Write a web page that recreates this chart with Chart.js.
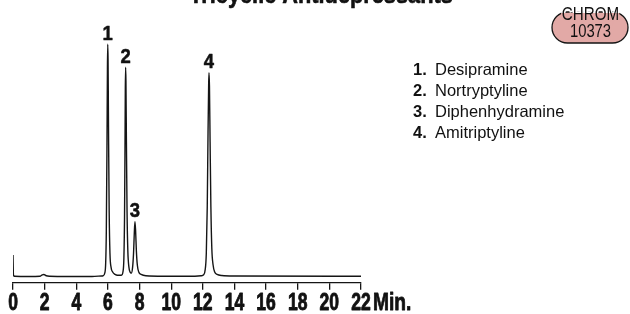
<!DOCTYPE html>
<html>
<head>
<meta charset="utf-8">
<script src="https://cdn.jsdelivr.net/npm/chart.js@4.4.1/dist/chart.umd.min.js"></script>
<style>
  html, body { margin: 0; padding: 0; background: #fff; }
  canvas { display: block; }
</style>
</head>
<body>
<canvas id="chrom" width="630" height="314"></canvas>
<script>
// Fonts (no condensed face installed, so narrow text is squeezed by hand)
const SANS = "'Liberation Sans', Arial, sans-serif";

// Trace: retention time (min) and relative response (%)
const traceTimes = [
    0, 0.03, 0.1, 1.0, 1.7, 1.85, 1.95, 2.1, 2.3, 3.5, 5.0, 5.6,
    5.70, 5.80, 5.86, 5.90, 5.94, 5.97, 5.99, 6.01, 6.04, 6.08, 6.13, 6.20, 6.30, 6.45, 6.60,
    6.85, 6.95, 7.01, 7.05, 7.08, 7.10, 7.12, 7.14, 7.17, 7.21, 7.26, 7.33, 7.40,
    7.48, 7.56, 7.62, 7.67, 7.71, 7.75, 7.80, 7.86, 7.95, 8.10, 8.40, 9.50, 11.5, 11.9,
    12.05, 12.15, 12.22, 12.28, 12.33, 12.37, 12.39, 12.42, 12.46, 12.51, 12.57, 12.65, 12.75, 12.90, 13.2, 14.0, 22.0
];
const traceValues = [
    9.3, 0.6, 0.2, 0.1, 0.2, 0.8, 0.9, 0.4, 0.2, 0.1, 0.1, 0.3,
    0.4, 1.5, 6, 20, 55, 90, 100, 93, 62, 28, 10, 4, 2, 1, 0.6,
    0.6, 2, 8, 25, 55, 80, 90.1, 84, 58, 28, 11, 4, 2,
    1.5, 4, 10, 19, 23.7, 20, 11, 5, 2, 1, 0.4, 0.2, 0.2, 0.4,
    0.8, 3, 10, 30, 62, 83, 87.8, 82, 58, 30, 12, 5, 2, 1, 0.5, 0.3, 0.2
];

// Peak labels
const peakNumbers = ['1', '2', '3', '4'];
const peakTimes = [5.99, 7.12, 7.71, 12.39];
const peakHeights = [100, 90.1, 23.7, 87.8];

// Compound list
const compoundNames = ['Desipramine', 'Nortryptyline', 'Diphenhydramine', 'Amitriptyline'];

// Axis ticks
const xTicks = [0, 2, 4, 6, 8, 10, 12, 14, 16, 18, 20, 22];
const xUnit = 'Min.';
const titleText = 'Tricyclic Antidepressants';
const badgeLines = ['CHROM', '10373'];

const COLORS = {
    LINE: '#151515',
    TEXT: '#111',
    BADGE: '#e2a9a6'
};

const points = traceTimes.map((t, i) => ({ x: t, y: traceValues[i] }));

// text squeezed horizontally to look like a condensed face, optional extra weight
function condensedText(ctx, text, x, y, sx, align, weight) {
    ctx.save();
    ctx.translate(x, y);
    ctx.scale(sx, 1);
    ctx.textAlign = align;
    if (weight) {
        ctx.lineWidth = weight;
        ctx.strokeStyle = ctx.fillStyle;
        ctx.lineJoin = 'round';
        ctx.strokeText(text, 0, 0);
    }
    ctx.fillText(text, 0, 0);
    ctx.restore();
}

// draws title, tick labels, peak numbers, compound list and the badge
const decorations = {
    id: 'decorations',
    afterDraw(chart) {
        const { ctx, scales: { x, y } } = chart;
        ctx.save();
        ctx.fillStyle = COLORS.TEXT;
        ctx.textBaseline = 'alphabetic';

        // title (cut at the top edge)
        ctx.font = `bold 25px ${SANS}`;
        condensedText(ctx, titleText, 321, 3, 0.87, 'center', 0.6);

        // tick labels and unit
        ctx.font = `bold 24px ${SANS}`;
        xTicks.forEach(v => condensedText(ctx, String(v), x.getPixelForValue(v), 310, 0.73, 'center', 0.9));
        condensedText(ctx, xUnit, x.getPixelForValue(xTicks[xTicks.length - 1]) + 12, 310, 0.8, 'left', 0.8);

        // peak numbers
        ctx.font = `bold 21px ${SANS}`;
        peakNumbers.forEach((n, i) => {
            condensedText(ctx, n, x.getPixelForValue(peakTimes[i]), y.getPixelForValue(peakHeights[i]) - 4.5, 0.88, 'center', 0.5);
        });

        // compound list
        ctx.textAlign = 'left';
        compoundNames.forEach((name, i) => {
            const yy = 75 + i * 21;
            ctx.font = `bold 16.5px ${SANS}`;
            ctx.fillText(`${i + 1}.`, 413, yy);
            ctx.font = `16.5px ${SANS}`;
            ctx.fillText(name, 435, yy);
        });

        // CHROM badge
        const bx = 552, by = 12, bw = 76, bh = 31, r = bh / 2;
        ctx.beginPath();
        ctx.moveTo(bx + r, by);
        ctx.lineTo(bx + bw - r, by);
        ctx.arc(bx + bw - r, by + r, r, -Math.PI / 2, Math.PI / 2);
        ctx.lineTo(bx + r, by + bh);
        ctx.arc(bx + r, by + r, r, Math.PI / 2, Math.PI * 1.5);
        ctx.closePath();
        ctx.fillStyle = COLORS.BADGE;
        ctx.fill();
        ctx.strokeStyle = COLORS.LINE;
        ctx.lineWidth = 1.3;
        ctx.stroke();

        ctx.font = `19px ${SANS}`;
        const cx = bx + bw / 2 + 0.5;
        // halo so the border stops at the word
        const halo = (color, clipY, clipH) => {
            ctx.save();
            ctx.beginPath(); ctx.rect(0, clipY, 630, clipH); ctx.clip();
            ctx.translate(cx, 20);
            ctx.scale(0.8, 1);
            ctx.textAlign = 'center';
            ctx.lineWidth = 3.5;
            ctx.strokeStyle = color;
            ctx.strokeText(badgeLines[0], 0, 0);
            ctx.restore();
        };
        halo('#fff', 0, by + 1);
        halo(COLORS.BADGE, by + 1, 40);
        ctx.fillStyle = COLORS.TEXT;
        condensedText(ctx, badgeLines[0], cx, 20, 0.8, 'center');
        condensedText(ctx, badgeLines[1], cx, 37, 0.78, 'center');

        ctx.restore();
    }
};

new Chart(document.getElementById('chrom'), {
    type: 'line',
    data: {
        datasets: [{
            data: points,
            borderColor: COLORS.LINE,
            borderWidth: 1.4,
            pointRadius: 0,
            fill: false,
            cubicInterpolationMode: 'monotone'
        }]
    },
    options: {
        responsive: false,
        animation: false,
        devicePixelRatio: 1,
        layout: { padding: { left: 13, right: 269, top: 32.7, bottom: 0 } },
        plugins: {
            legend: { display: false },
            tooltip: { enabled: false }
        },
        scales: {
            x: {
                type: 'linear',
                min: 0,
                max: 22,
                afterBuildTicks: (scale) => {
                    scale.ticks = xTicks.map(v => ({ value: v }));
                },
                afterFit: (scale) => {
                    scale.height = 31.3;
                    scale.paddingLeft = 0;
                    scale.paddingRight = 0;
                },
                ticks: { display: false },
                grid: {
                    drawOnChartArea: false,
                    drawTicks: true,
                    tickLength: 7,
                    color: COLORS.LINE,
                    lineWidth: 1.3
                },
                border: { display: true, color: COLORS.LINE, width: 1.3 }
            },
            y: {
                display: false,
                min: -2.6,
                max: 105
            }
        }
    },
    plugins: [decorations]
});
</script>
</body>
</html>
